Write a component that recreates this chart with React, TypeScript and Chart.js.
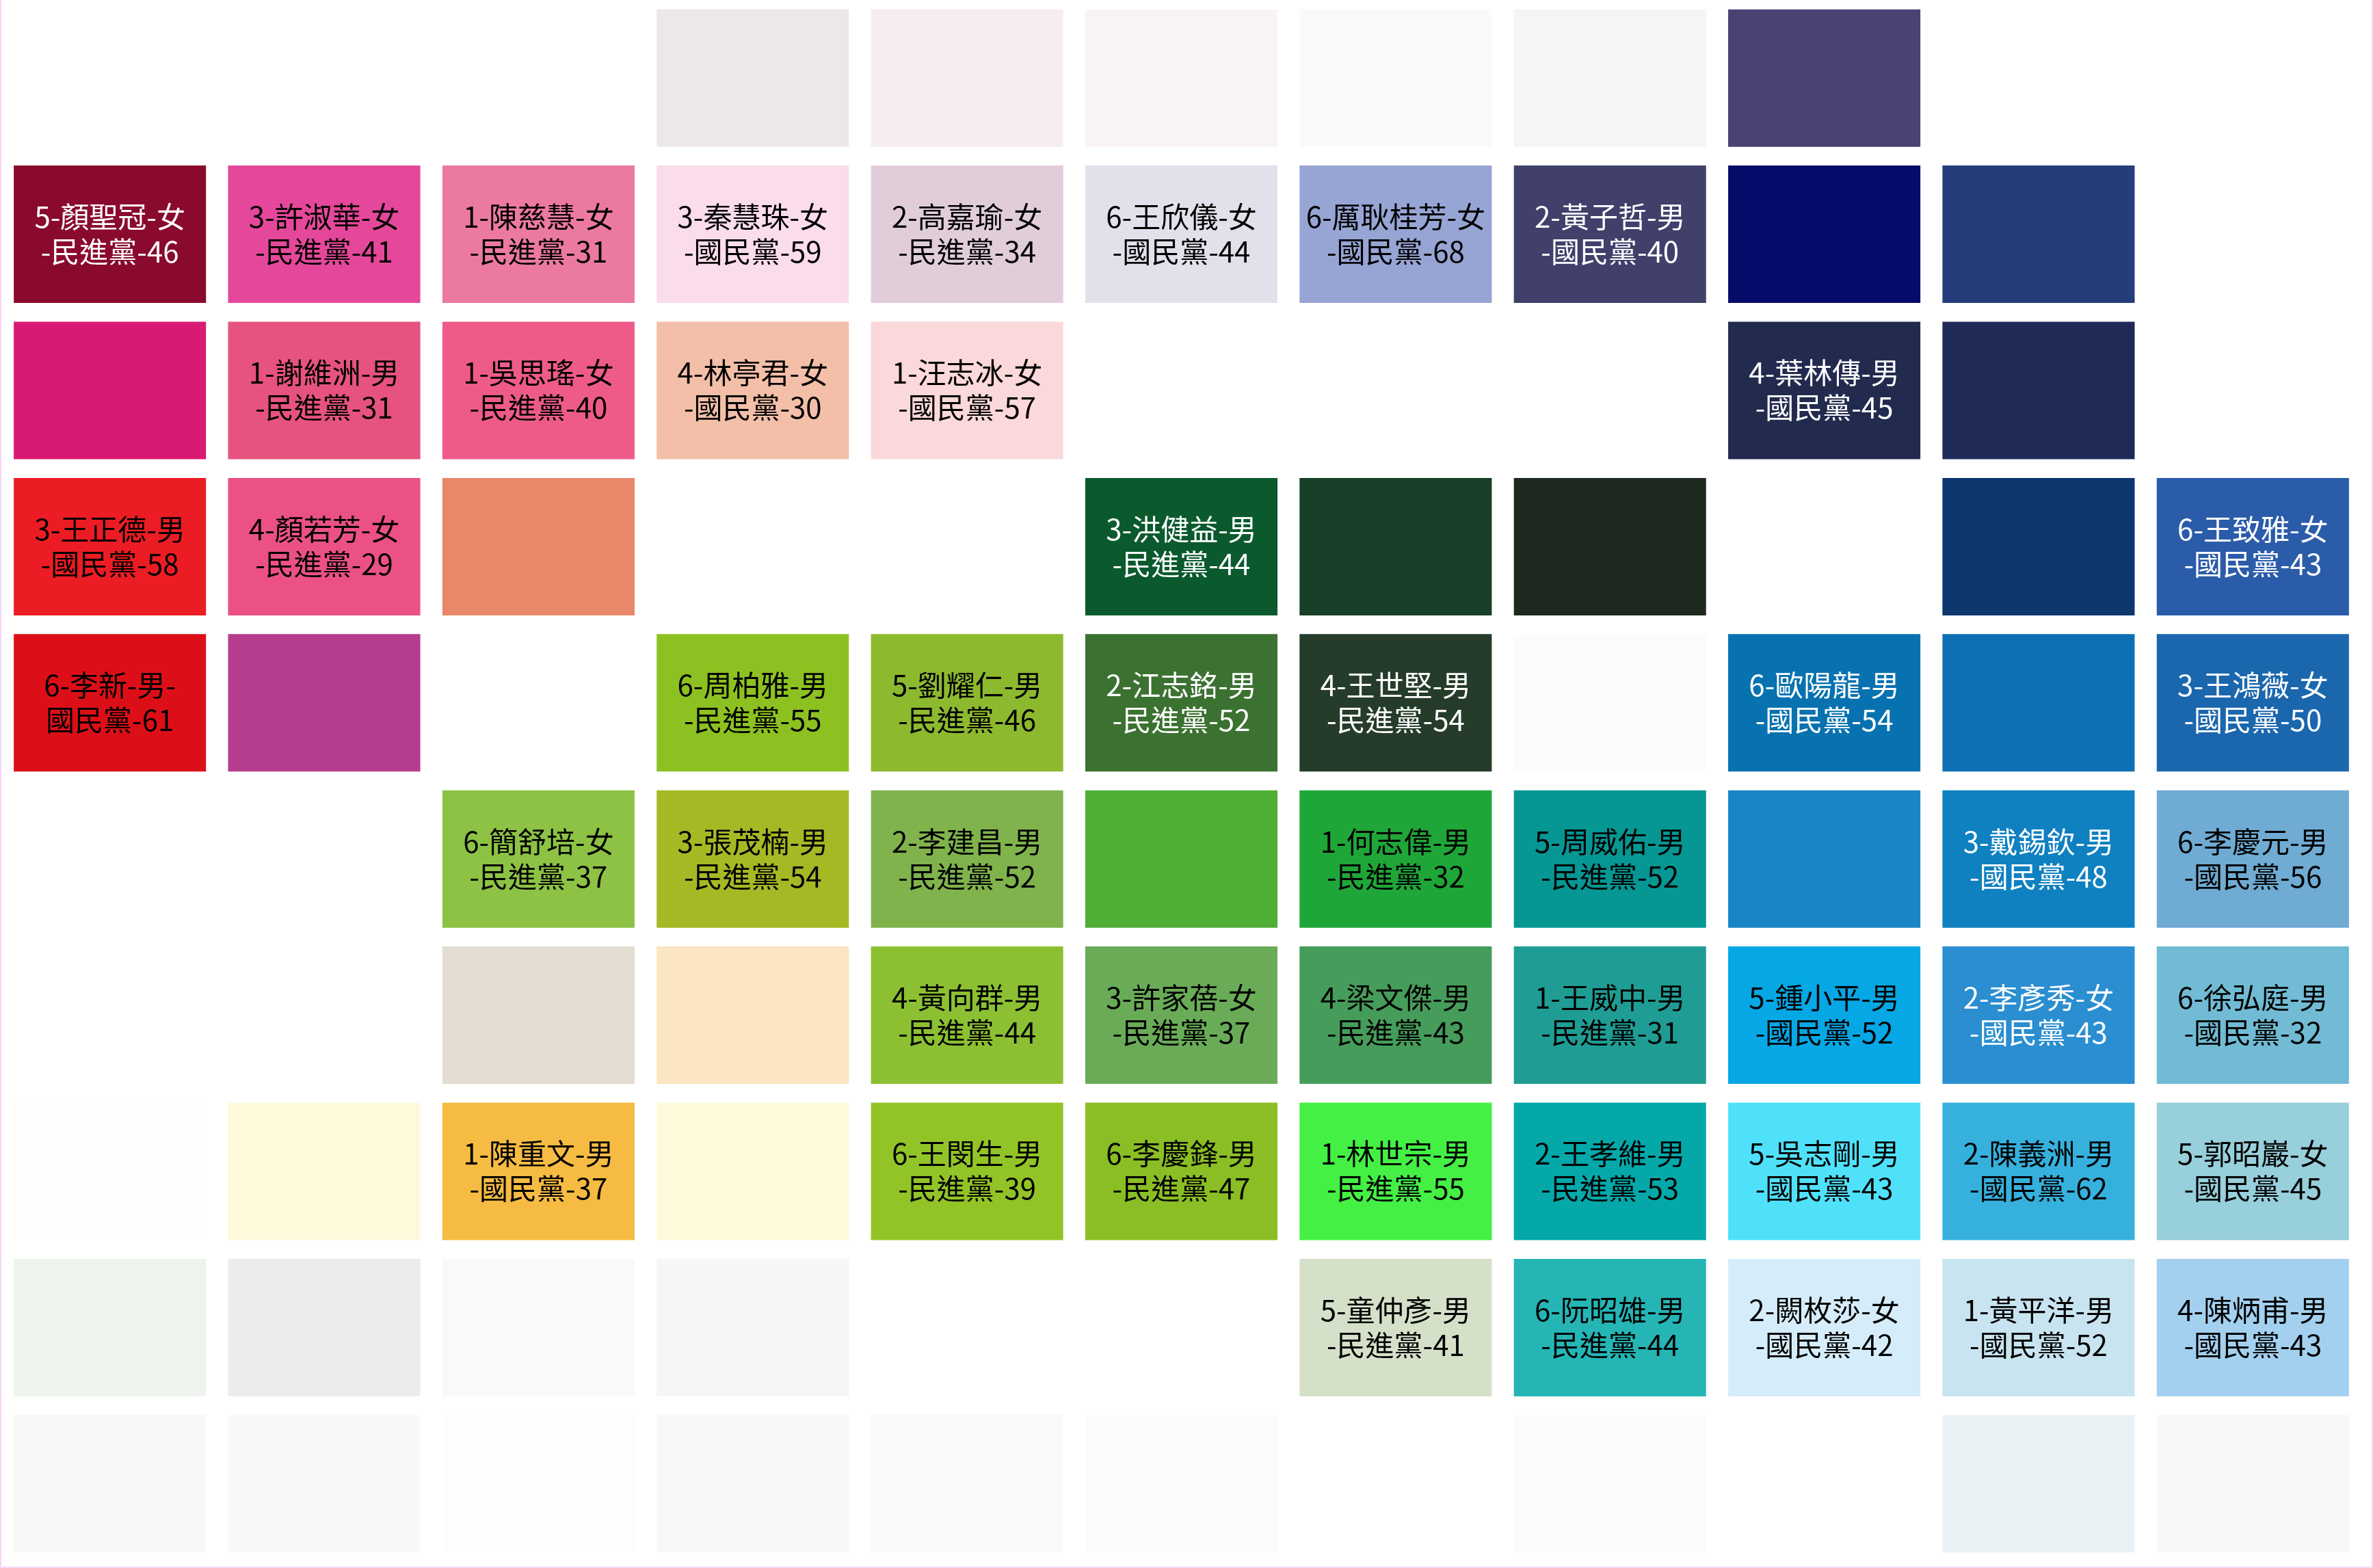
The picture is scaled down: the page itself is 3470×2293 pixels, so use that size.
import React, { useEffect, useRef } from "react";
import { Chart, registerables } from "chart.js";

Chart.register(...registerables);

const columns = ["c1", "c2", "c3", "c4", "c5", "c6", "c7", "c8", "c9", "c10", "c11"];

const cellColors: (string | null)[][] = [
  [null, null, null, "#EDE7E9", "#F6EDF1", "#F9F3F6", "#FAFAF8", "#F6F5F5", "#494273", null, null],
  ["#8A0A2E", "#E5489A", "#EC7AA0", "#FADCEB", "#E1CDDA", "#E1E1EC", "#97A5D4", "#40406B", "#060B6A", "#253E7B", null],
  ["#D81A74", "#E6537E", "#EE5B89", "#F3BFA8", "#FBD8D9", null, null, null, "#222A4E", "#202A57", null],
  ["#EC1C24", "#EB5185", "#E8876A", null, null, "#0B5A2E", "#183F28", "#1E2A20", null, "#0D356E", "#2B5CAA"],
  ["#DC0F18", "#B53C8E", null, "#8DC121", "#8DB92F", "#3C7231", "#263C2B", "#FCFCFC", "#0872B0", "#0E70B4", "#1B67AE"],
  [null, null, "#8DC245", "#A6B824", "#80B34C", "#4FAE36", "#1FA638", "#069693", "#1A85C6", "#0F80C0", "#6FABD3"],
  [null, null, "#E3DDD1", "#FBE5C3", "#8CC032", "#6AAB58", "#469C5A", "#1F9D94", "#06A7E5", "#2A8ED1", "#71BBD4"],
  ["#FDFDFD", "#FEF9DB", "#F6BB43", "#FEFADB", "#92C427", "#8ABE24", "#44F044", "#05A8A9", "#50E1FA", "#36B1DE", "#97CFDB"],
  ["#EEF3EE", "#ECECEA", "#F9F9F9", "#F6F6F6", null, null, "#D5E0C9", "#25B5B5", "#D5EDFA", "#C8E4F0", "#A3D0EF"],
  ["#F6F8F6", "#F7F9F8", "#FDFEFC", "#F7F8F8", "#F8F9F9", "#FAFBFA", null, "#FCFCFC", null, "#EAF2F5", "#F6F8F9"],
];

const cellLabels: (string | null)[][] = [
  [null, null, null, null, null, null, null, null, null, null, null],
  ["5-顏聖冠-女\n-民進黨-46", "3-許淑華-女\n-民進黨-41", "1-陳慈慧-女\n-民進黨-31", "3-秦慧珠-女\n-國民黨-59", "2-高嘉瑜-女\n-民進黨-34", "6-王欣儀-女\n-國民黨-44", "6-厲耿桂芳-女\n-國民黨-68", "2-黃子哲-男\n-國民黨-40", null, null, null],
  [null, "1-謝維洲-男\n-民進黨-31", "1-吳思瑤-女\n-民進黨-40", "4-林亭君-女\n-國民黨-30", "1-汪志冰-女\n-國民黨-57", null, null, null, "4-葉林傳-男\n-國民黨-45", null, null],
  ["3-王正德-男\n-國民黨-58", "4-顏若芳-女\n-民進黨-29", null, null, null, "3-洪健益-男\n-民進黨-44", null, null, null, null, "6-王致雅-女\n-國民黨-43"],
  ["6-李新-男-\n國民黨-61", null, null, "6-周柏雅-男\n-民進黨-55", "5-劉耀仁-男\n-民進黨-46", "2-江志銘-男\n-民進黨-52", "4-王世堅-男\n-民進黨-54", null, "6-歐陽龍-男\n-國民黨-54", null, "3-王鴻薇-女\n-國民黨-50"],
  [null, null, "6-簡舒培-女\n-民進黨-37", "3-張茂楠-男\n-民進黨-54", "2-李建昌-男\n-民進黨-52", null, "1-何志偉-男\n-民進黨-32", "5-周威佑-男\n-民進黨-52", null, "3-戴錫欽-男\n-國民黨-48", "6-李慶元-男\n-國民黨-56"],
  [null, null, null, null, "4-黃向群-男\n-民進黨-44", "3-許家蓓-女\n-民進黨-37", "4-梁文傑-男\n-民進黨-43", "1-王威中-男\n-民進黨-31", "5-鍾小平-男\n-國民黨-52", "2-李彥秀-女\n-國民黨-43", "6-徐弘庭-男\n-國民黨-32"],
  [null, null, "1-陳重文-男\n-國民黨-37", null, "6-王閔生-男\n-民進黨-39", "6-李慶鋒-男\n-民進黨-47", "1-林世宗-男\n-民進黨-55", "2-王孝維-男\n-民進黨-53", "5-吳志剛-男\n-國民黨-43", "2-陳義洲-男\n-國民黨-62", "5-郭昭巖-女\n-國民黨-45"],
  [null, null, null, null, null, null, "5-童仲彥-男\n-民進黨-41", "6-阮昭雄-男\n-民進黨-44", "2-闕枚莎-女\n-國民黨-42", "1-黃平洋-男\n-國民黨-52", "4-陳炳甫-男\n-國民黨-43"],
  [null, null, null, null, null, null, null, null, null, null, null],
];

const whiteTextLabels = [
  "5-顏聖冠-女",
  "2-黃子哲-男",
  "4-葉林傳-男",
  "3-洪健益-男",
  "6-王致雅-女",
  "2-江志銘-男",
  "4-王世堅-男",
  "6-歐陽龍-男",
  "3-王鴻薇-女",
  "3-戴錫欽-男",
  "2-李彥秀-女",
];

const W = 3470;
const H = 2293;

export default function App() {
  const ref = useRef<HTMLCanvasElement | null>(null);

  useEffect(() => {
    document.body.style.margin = "0";
    const canvas = ref.current;
    if (!canvas) return;

    const datasets = cellColors.map((row, r) => ({
      label: "row" + r,
      data: row.map((c) => (c ? [r + 0.06, r + 0.94] : null)),
      backgroundColor: row.map((c) => c || "rgba(0,0,0,0)"),
      borderWidth: 0,
      grouped: false,
      barPercentage: 0.897,
      categoryPercentage: 1,
    }));

    const bgPlugin = {
      id: "bg",
      beforeDraw(chart: any) {
        const ctx = chart.ctx;
        ctx.save();
        ctx.fillStyle = "#ffffff";
        ctx.fillRect(0, 0, chart.width, chart.height);
        ctx.restore();
      },
      afterDraw(chart: any) {
        const ctx = chart.ctx;
        ctx.save();
        ctx.fillStyle = "#F8D6F8";
        ctx.fillRect(0, 0, 2, chart.height);
        ctx.fillRect(chart.width - 2, 0, 2, chart.height);
        ctx.fillRect(0, chart.height - 2, chart.width, 2);
        ctx.restore();
      },
    };

    const labelPlugin = {
      id: "cellLabels",
      afterDatasetsDraw(chart: any) {
        const ctx = chart.ctx;
        ctx.save();
        ctx.font = '42px "Noto Sans CJK TC", "Noto Sans CJK SC", sans-serif';
        ctx.textAlign = "center";
        ctx.textBaseline = "middle";
        cellLabels.forEach((row, r) => {
          const meta = chart.getDatasetMeta(r);
          row.forEach((label, c) => {
            if (!label) return;
            const el = meta.data[c];
            if (!el) return;
            const p = el.getProps(["x", "y", "base"], true);
            const cy = (p.y + p.base) / 2;
            const lines = label.split("\n");
            const white = whiteTextLabels.includes(lines[0]);
            ctx.fillStyle = white ? "#ffffff" : "#000000";
            lines.forEach((line, i) => {
              ctx.fillText(line, p.x, cy + (i - (lines.length - 1) / 2) * 51);
            });
          });
        });
        ctx.restore();
      },
    };

    const chart = new Chart(canvas, {
      type: "bar",
      data: { labels: columns, datasets: datasets as any },
      options: {
        responsive: false,
        animation: false,
        layout: { padding: { left: 4, right: 19, top: 0, bottom: 9 } },
        plugins: {
          legend: { display: false },
          tooltip: { enabled: false },
        },
        scales: {
          x: { display: false, offset: true },
          y: { display: false, min: 0, max: 10, reverse: true },
        },
      },
      plugins: [bgPlugin, labelPlugin],
    });

    return () => chart.destroy();
  }, []);

  return (
    <div style={{ position: "absolute", left: 0, top: 0, width: W, height: H }}>
      <canvas ref={ref} width={W} height={H} style={{ display: "block", width: W, height: H }} />
    </div>
  );
}
